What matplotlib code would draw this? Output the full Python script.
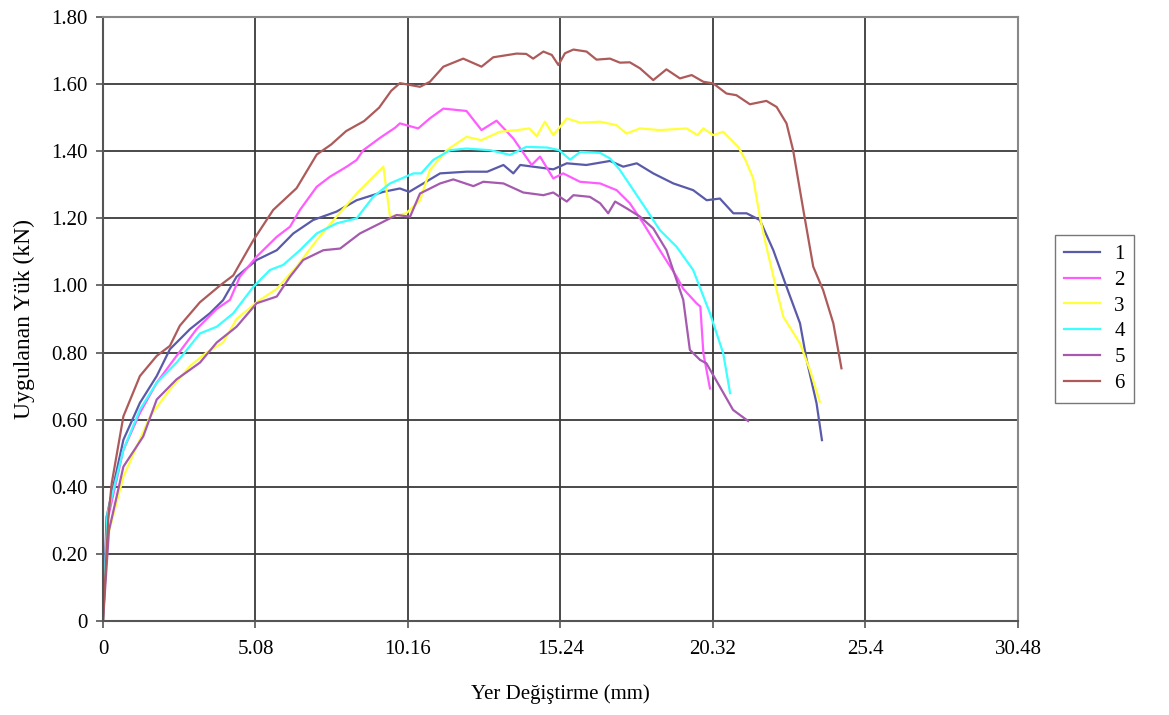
import matplotlib
matplotlib.use("Agg")
import matplotlib.pyplot as plt

plt.rcParams['font.family'] = ['Liberation Serif', 'DejaVu Serif']

# Test curves: displacement (mm) vs applied load (kN)
x1 = [0, 0.12, 0.68, 1.23, 1.79, 2.23, 2.9, 3.56, 4.0, 4.45, 5.12, 5.79, 6.34, 7.0, 7.78, 8.45,
      9.34, 9.89, 10.2, 10.67, 11.23, 12.11, 12.8, 13.34, 13.67, 13.9, 14.33, 15.0, 15.45, 16.1,
      16.89, 17.33, 17.78, 18.33, 19.0, 19.66, 20.11, 20.55, 21.0, 21.44, 21.88, 22.33, 22.77,
      23.22, 23.44, 23.77, 23.95]
y1 = [0, 0.31, 0.54, 0.65, 0.73, 0.81, 0.87, 0.917, 0.956, 1.026, 1.076, 1.105, 1.155, 1.195, 1.22,
      1.254, 1.279, 1.289, 1.279, 1.304, 1.334, 1.339, 1.339, 1.359, 1.334, 1.359, 1.354, 1.346,
      1.364, 1.359, 1.371, 1.354, 1.364, 1.334, 1.304, 1.284, 1.254, 1.259, 1.215, 1.215, 1.195,
      1.105, 0.996, 0.887, 0.778, 0.649, 0.539]

x2 = [0, 0.15, 0.68, 1.23, 1.79, 2.45, 3.12, 3.79, 4.23, 4.56, 5.12, 5.79, 6.23, 6.56, 7.12, 7.56,
      8.12, 8.45, 8.67, 9.23, 9.73, 9.89, 10.5, 10.89, 11.34, 12.11, 12.61, 13.11, 13.67, 14.28,
      14.56, 15.0, 15.33, 15.89, 16.56, 17.11, 17.55, 18.0, 18.55, 19.11, 19.33, 19.77, 19.9,
      20.0, 20.22]
y2 = [0, 0.3, 0.51, 0.62, 0.71, 0.79, 0.87, 0.93, 0.957, 1.026, 1.086, 1.145, 1.175, 1.225, 1.294,
      1.324, 1.354, 1.374, 1.403, 1.44, 1.47, 1.483, 1.468, 1.498, 1.527, 1.52, 1.463, 1.491,
      1.438, 1.359, 1.384, 1.319, 1.334, 1.309, 1.304, 1.284, 1.245, 1.185, 1.105, 1.026, 0.99,
      0.947, 0.937, 0.798, 0.693]

x3 = [0, 0.15, 0.68, 1.57, 2.23, 2.9, 3.45, 4.0, 4.45, 5.12, 5.79, 6.45, 7.12, 7.78, 8.45, 9.23,
      9.34, 9.56, 10.1, 10.56, 10.89, 11.45, 12.11, 12.6, 13.22, 13.8, 14.2, 14.45, 14.72, 15.0,
      15.45, 15.9, 16.56, 17.1, 17.44, 17.89, 18.55, 19.44, 19.8, 20.0, 20.33, 20.66, 21.16,
      21.4, 21.66, 21.88, 22.1, 22.44, 22.66, 23.22, 23.55, 23.88]
y3 = [0, 0.25, 0.43, 0.61, 0.69, 0.76, 0.80, 0.83, 0.90, 0.95, 0.99, 1.056, 1.135, 1.205, 1.274,
      1.344, 1.354, 1.205, 1.215, 1.254, 1.344, 1.403, 1.443, 1.433, 1.458, 1.463, 1.468, 1.445,
      1.488, 1.448, 1.498, 1.485, 1.488, 1.478, 1.453, 1.468, 1.463, 1.468, 1.448, 1.468, 1.448,
      1.458, 1.413, 1.374, 1.319, 1.205, 1.115, 0.986, 0.907, 0.827, 0.748, 0.653]

x4 = [0, 0.15, 0.68, 1.23, 1.79, 2.45, 3.23, 3.79, 4.34, 5.01, 5.56, 6.0, 6.56, 7.12, 7.78, 8.45,
      9.0, 9.56, 10.34, 10.6, 11.0, 11.56, 12.1, 12.9, 13.56, 14.1, 14.8, 15.2, 15.56, 15.9,
      16.56, 16.9, 17.22, 17.67, 18.11, 18.55, 19.11, 19.66, 20.22, 20.66, 20.89]
y4 = [0, 0.32, 0.51, 0.63, 0.71, 0.77, 0.857, 0.877, 0.917, 0.996, 1.046, 1.061, 1.105, 1.155,
      1.185, 1.2, 1.264, 1.304, 1.334, 1.334, 1.374, 1.403, 1.408, 1.403, 1.389, 1.413, 1.411,
      1.403, 1.375, 1.398, 1.395, 1.378, 1.344, 1.284, 1.225, 1.165, 1.115, 1.046, 0.917, 0.798,
      0.679]

x5 = [0, 0.2, 0.68, 1.34, 1.79, 2.45, 3.23, 3.79, 4.45, 5.12, 5.79, 6.23, 6.67, 7.34, 7.9, 8.56,
      9.23, 9.78, 10.23, 10.56, 11.23, 11.67, 12.34, 12.67, 13.34, 14.0, 14.67, 15.0, 15.45,
      15.67, 16.22, 16.56, 16.83, 17.06, 17.44, 17.89, 18.33, 18.77, 19.33, 19.55, 19.89,
      20.1, 20.55, 20.99, 21.49]
y5 = [0, 0.27, 0.46, 0.55, 0.66, 0.72, 0.77, 0.83, 0.877, 0.947, 0.967, 1.026, 1.076, 1.105, 1.11,
      1.155, 1.185, 1.21, 1.205, 1.274, 1.304, 1.316, 1.296, 1.309, 1.304, 1.277, 1.269, 1.277,
      1.25, 1.269, 1.264, 1.245, 1.215, 1.25, 1.23, 1.205, 1.17, 1.105, 0.957, 0.808, 0.778,
      0.768, 0.698, 0.629, 0.596]

x6 = [0, 0.18, 0.29, 0.68, 1.23, 1.79, 2.23, 2.56, 3.23, 3.9, 4.34, 5.01, 5.67, 6.45, 7.12, 7.6,
      8.1, 8.7, 9.2, 9.6, 9.89, 10.56, 10.89, 11.34, 12.0, 12.61, 13.0, 13.78, 14.1, 14.33,
      14.67, 14.95, 15.17, 15.39, 15.67, 16.11, 16.44, 16.89, 17.22, 17.55, 17.89, 18.33, 18.77,
      19.22, 19.61, 20.0, 20.33, 20.77, 21.1, 21.55, 22.1, 22.44, 22.77, 22.99, 23.33, 23.66,
      23.99, 24.33, 24.6]
y6 = [0, 0.31, 0.41, 0.61, 0.73, 0.79, 0.82, 0.88, 0.95, 1.0, 1.03, 1.135, 1.225, 1.29, 1.39,
      1.42, 1.46, 1.49, 1.53, 1.58, 1.603, 1.592, 1.607, 1.652, 1.676, 1.652, 1.68, 1.691, 1.69,
      1.676, 1.697, 1.687, 1.657, 1.692, 1.703, 1.697, 1.673, 1.676, 1.664, 1.665, 1.647, 1.612,
      1.644, 1.617, 1.627, 1.607, 1.602, 1.572, 1.567, 1.54, 1.55, 1.532, 1.483, 1.403, 1.225,
      1.056, 0.986, 0.887, 0.753]

series = [(x1, y1, '1'), (x2, y2, '2'), (x3, y3, '3'), (x4, y4, '4'), (x5, y5, '5'), (x6, y6, '6')]
colors = ['#5a5aaa', '#ff5cff', '#ffff3c', '#3cffff', '#a55aaf', '#ad5a5a']

xticks = [0, 5.08, 10.16, 15.24, 20.32, 25.4, 30.48]
xtick_labels = ['0', '5.08', '10.16', '15.24', '20.32', '25.4', '30.48']
yticks = [0, 0.2, 0.4, 0.6, 0.8, 1.0, 1.2, 1.4, 1.6, 1.8]
ytick_labels = ['0', '0.20', '0.40', '0.60', '0.80', '1.00', '1.20', '1.40', '1.60', '1.80']

fig = plt.figure(figsize=(11.69, 7.15), dpi=100)
ax = fig.add_axes([0.0881, 0.1315, 0.7827, 0.8447])

for (xs, ys, lab), c in zip(series, colors):
    ax.plot(xs, ys, color=c, lw=1.6, label=lab)

ax.set_xlim(0, 30.48)
ax.set_ylim(0, 1.8)
ax.set_xticks(xticks)
ax.set_xticklabels(xtick_labels)
ax.set_yticks(yticks)
ax.set_yticklabels(ytick_labels)
ax.grid(True, color='#3a3a3a', lw=1.3)
ax.set_axisbelow(True)
ax.tick_params(labelsize=15, length=5, width=1.2, color='#555555', pad=6)
ax.tick_params(axis='x', pad=9)
for s in ax.spines.values():
    s.set_color('#888888')
    s.set_linewidth(1.5)
ax.spines['left'].set_color('#555555')
ax.spines['bottom'].set_color('#555555')

ax.set_xlabel('Yer Değiştirme (mm)', fontsize=15, labelpad=18)
ax.set_ylabel('Uygulanan Yük (kN)', fontsize=17, labelpad=12)

ax.legend(loc='upper left', bbox_to_anchor=(0.9025, 0.6713), bbox_transform=fig.transFigure,
          borderaxespad=0, frameon=True, fancybox=False, edgecolor='#555555', fontsize=15,
          handlelength=1.7, handletextpad=0.7, labelspacing=0.3, borderpad=0.45)

fig.savefig('out.png', dpi=100)
